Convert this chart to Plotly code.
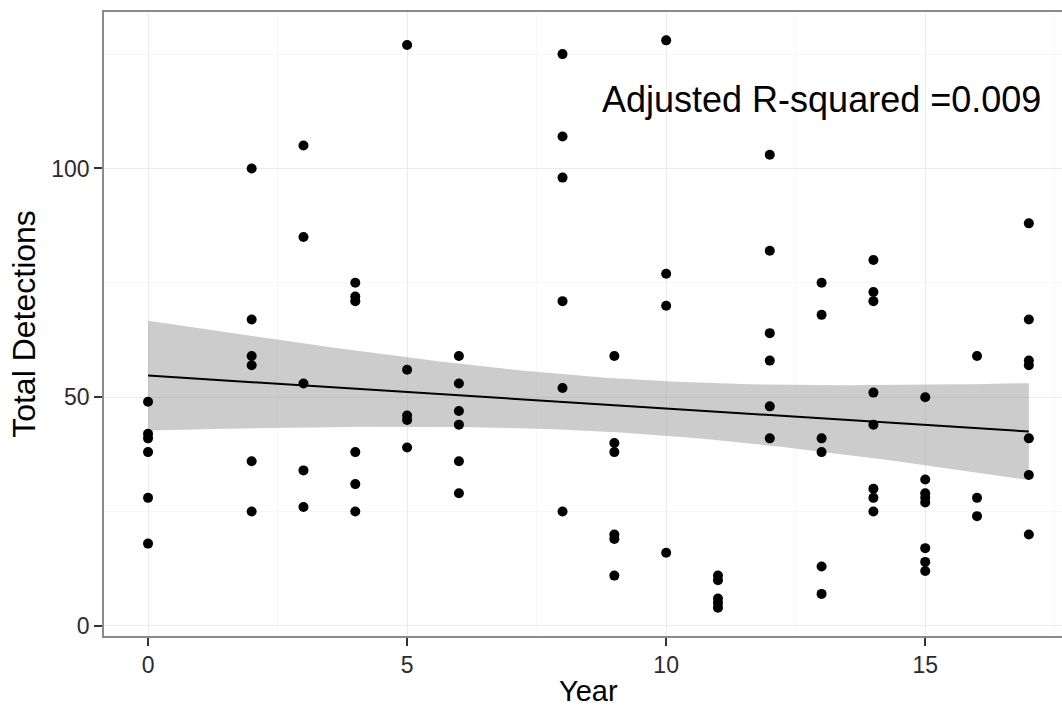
import numpy as np
import plotly.graph_objects as go

# Data: detections per survey year
years = [0, 2, 3, 4, 5, 6, 8, 9, 10, 11, 12, 13, 14, 15, 16, 17]
detections = {
    0: [49, 42, 41, 38, 28, 18],
    2: [100, 67, 59, 57, 36, 25],
    3: [105, 85, 53, 34, 26],
    4: [75, 72, 71, 38, 31, 25],
    5: [127, 56, 46, 45, 39],
    6: [59, 53, 47, 44, 36, 29],
    8: [125, 107, 98, 71, 52, 25],
    9: [59, 40, 38, 20, 19, 11],
    10: [128, 77, 70, 16],
    11: [11, 10, 6, 5, 4],
    12: [103, 82, 64, 58, 48, 41],
    13: [75, 68, 41, 38, 13, 7],
    14: [80, 73, 71, 51, 44, 30, 28, 25],
    15: [50, 32, 29, 28, 27, 17, 14, 12],
    16: [59, 28, 24],
    17: [88, 67, 58, 57, 41, 33, 20],
}

x_vals = []
y_vals = []
for yr in years:
    for v in detections[yr]:
        x_vals.append(yr)
        y_vals.append(v)
x = np.array(x_vals, dtype=float)
y = np.array(y_vals, dtype=float)

# Linear fit with 95% confidence band
n = len(x)
slope, intercept = np.polyfit(x, y, 1)
resid = y - (slope * x + intercept)
s = np.sqrt(np.sum(resid ** 2) / (n - 2))
t_crit = 1.986
xm = x.mean()
sxx = np.sum((x - xm) ** 2)
xg = np.linspace(x.min(), x.max(), 80)
yg = slope * xg + intercept
se = s * np.sqrt(1.0 / n + (xg - xm) ** 2 / sxx)
upper = yg + t_crit * se
lower = yg - t_crit * se

fig = go.Figure()
fig.add_trace(go.Scatter(
    x=np.concatenate([xg, xg[::-1]]),
    y=np.concatenate([upper, lower[::-1]]),
    fill="toself", fillcolor="rgba(153,153,153,0.5)",
    line=dict(width=0), mode="lines", hoverinfo="skip", showlegend=False,
))
fig.add_trace(go.Scatter(
    x=xg, y=yg, mode="lines", line=dict(color="black", width=2),
    showlegend=False,
))
fig.add_trace(go.Scatter(
    x=x, y=y, mode="markers",
    marker=dict(color="black", size=10),
    showlegend=False,
))

font_family = "Liberation Sans, Arial, sans-serif"

fig.add_annotation(
    x=13, y=115, text="Adjusted R-squared =0.009", showarrow=False,
    font=dict(family=font_family, size=36, color="black"),
    xanchor="center", yanchor="middle",
)
# x-axis title, centred on the full (cropped) panel
fig.add_annotation(
    x=8.5, xref="x", y=0, yref="paper", yshift=-72,
    text="Year", showarrow=False, borderpad=0,
    font=dict(family=font_family, size=29, color="black"),
    xanchor="center", yanchor="bottom",
)

axis_font = dict(family=font_family, size=23, color="#2b2b2b")
title_font = dict(family=font_family, size=32, color="black")

fig.update_layout(
    width=1062, height=709,
    margin=dict(l=104, r=0, t=12, b=73),
    paper_bgcolor="white", plot_bgcolor="white",
    xaxis=dict(
        range=[-0.85, 17.64], tickvals=[0, 5, 10, 15],
        showgrid=True, gridcolor="#ebebeb", gridwidth=1,
        minor=dict(tickvals=[2.5, 7.5, 12.5, 17.5], showgrid=True, gridcolor="#f7f7f7", ticklen=0),
        zeroline=False, showline=True, linecolor="#8a8a8a", linewidth=1.5, mirror=True,
        ticks="outside", ticklen=8, tickwidth=2, tickcolor="#333333",
        tickfont=axis_font,
    ),
    yaxis=dict(
        range=[-2.2, 134.2], tickvals=[0, 50, 100],
        showgrid=True, gridcolor="#ebebeb", gridwidth=1,
        minor=dict(tickvals=[25, 75, 125], showgrid=True, gridcolor="#f7f7f7", ticklen=0),
        zeroline=False, showline=True, linecolor="#8a8a8a", linewidth=1.5,
        ticks="outside", ticklen=8, tickwidth=2, tickcolor="#333333",
        tickfont=axis_font,
        title=dict(text="Total Detections", font=title_font, standoff=6),
    ),
)

fig.write_html("out.html")
